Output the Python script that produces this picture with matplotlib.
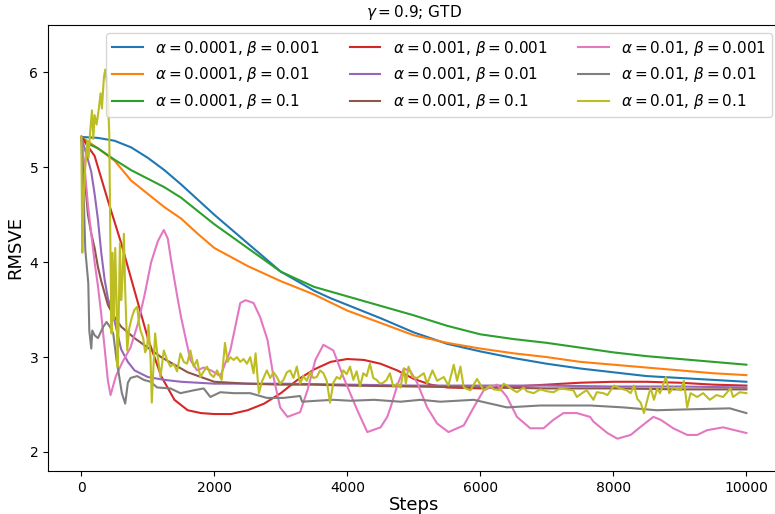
import matplotlib
matplotlib.use("Agg")
import matplotlib.pyplot as plt
import numpy as np

# RMSVE curves (step, value)
blue_steps = [0, 250, 500, 750, 1000, 1250, 1500, 1750, 2000, 2250, 2500, 2750, 3000, 3250,
              3500, 3750, 4000, 4500, 5000, 5500, 6000, 6500, 7000, 7500, 8000, 8500, 9000,
              9500, 10000]
blue_vals = [5.32, 5.31, 5.28, 5.21, 5.10, 4.97, 4.82, 4.66, 4.50, 4.35, 4.20, 4.05, 3.90, 3.80,
             3.70, 3.62, 3.55, 3.41, 3.26, 3.14, 3.06, 2.99, 2.93, 2.88, 2.84, 2.80, 2.78,
             2.76, 2.74]

orange_steps = [0, 250, 500, 750, 1000, 1250, 1500, 1750, 2000, 2500, 3000, 3500, 4000, 4500,
                5000, 5500, 6000, 6500, 7000, 7500, 8000, 8500, 9000, 9500, 10000]
orange_vals = [5.32, 5.20, 5.07, 4.86, 4.72, 4.58, 4.46, 4.30, 4.15, 3.96, 3.80, 3.66, 3.49, 3.36,
               3.23, 3.15, 3.09, 3.04, 3.00, 2.95, 2.92, 2.89, 2.86, 2.83, 2.81]

green_steps = [0, 100, 250, 500, 750, 1000, 1250, 1500, 1750, 2000, 2500, 3000, 3500, 4000,
               4500, 5000, 5500, 6000, 6500, 7000, 7500, 8000, 8500, 9000, 9500, 10000]
green_vals = [5.32, 5.25, 5.20, 5.08, 4.97, 4.88, 4.79, 4.68, 4.54, 4.40, 4.15, 3.90, 3.74, 3.64,
              3.54, 3.44, 3.33, 3.24, 3.19, 3.15, 3.10, 3.05, 3.01, 2.98, 2.95, 2.92]

red_steps = [0, 200, 400, 600, 800, 1000, 1200, 1400, 1600, 1800, 2000, 2250, 2500, 2750, 3000,
             3250, 3500, 3750, 4000, 4250, 4500, 4750, 5000, 5250, 5500, 6000, 6500, 7000,
             7500, 8000, 8500, 9000, 9500, 10000]
red_vals = [5.32, 5.12, 4.65, 4.20, 3.70, 3.20, 2.80, 2.55, 2.44, 2.41, 2.40, 2.40, 2.44, 2.51,
            2.62, 2.76, 2.87, 2.95, 2.98, 2.97, 2.93, 2.86, 2.77, 2.71, 2.68, 2.67, 2.69, 2.71,
            2.73, 2.74, 2.74, 2.73, 2.71, 2.70]

purple_steps = [0, 50, 100, 150, 200, 250, 300, 350, 400, 500, 600, 700, 800, 1000, 1250, 1500,
                2000, 3000, 4000, 5000, 6000, 7000, 8000, 9000, 10000]
purple_vals = [5.32, 5.20, 5.08, 4.95, 4.72, 4.45, 4.10, 3.82, 3.62, 3.38, 3.08, 2.95, 2.86, 2.79,
               2.76, 2.74, 2.72, 2.72, 2.71, 2.70, 2.70, 2.70, 2.69, 2.69, 2.68]

brown_steps = [0, 50, 100, 150, 200, 250, 300, 400, 500, 600, 800, 1000, 1200, 1400, 1600, 1800,
               2000, 2250, 2500, 3000, 3500, 4000, 5000, 6000, 7000, 8000, 9000, 10000]
brown_vals = [5.32, 4.90, 4.50, 4.30, 4.15, 3.95, 3.80, 3.55, 3.42, 3.32, 3.20, 3.10, 3.00, 2.92,
              2.84, 2.79, 2.74, 2.73, 2.72, 2.71, 2.71, 2.70, 2.69, 2.68, 2.67, 2.67, 2.66, 2.66]

pink_steps = [0, 50, 100, 150, 200, 250, 300, 350, 400, 440, 520, 620, 740, 850, 950, 1050,
              1150, 1240, 1300, 1350, 1440, 1500, 1640, 1740, 1840, 1950, 2090, 2240, 2390,
              2470, 2590, 2690, 2800, 2890, 2990, 3100, 3290, 3400, 3520, 3640, 3790, 3940,
              4150, 4300, 4500, 4600, 4650, 4750, 4850, 4950, 5050, 5200, 5350, 5520, 5750,
              5900, 6050, 6250, 6400, 6550, 6750, 6950, 7100, 7250, 7450, 7650, 7700, 7910,
              8060, 8260, 8400, 8600, 8710, 8900, 9110, 9260, 9410, 9650, 10000]
pink_vals = [5.32, 5.00, 4.60, 4.30, 4.00, 3.75, 3.45, 3.10, 2.75, 2.60, 2.80, 2.95, 3.10, 3.35,
             3.65, 4.00, 4.22, 4.34, 4.25, 4.02, 3.65, 3.42, 2.97, 2.86, 2.89, 2.86, 2.80, 3.07,
             3.57, 3.60, 3.57, 3.42, 3.18, 2.79, 2.47, 2.37, 2.42, 2.65, 2.97, 3.13, 3.07, 2.79,
             2.44, 2.21, 2.26, 2.37, 2.47, 2.70, 2.88, 2.85, 2.73, 2.47, 2.30, 2.21, 2.28,
             2.47, 2.65, 2.71, 2.58, 2.37, 2.25, 2.25, 2.34, 2.41, 2.41, 2.37, 2.32, 2.20,
             2.14, 2.18, 2.26, 2.37, 2.34, 2.25, 2.18, 2.18, 2.23, 2.26, 2.20]

gray_steps = [0, 40, 60, 105, 120, 150, 165, 200, 250, 330, 380, 430, 480, 530, 610, 660, 700,
              740, 840, 940, 1040, 1140, 1340, 1490, 1690, 1840, 1940, 2090, 2290, 2540, 2790,
              3040, 3290, 3320, 3540, 3790, 4050, 4400, 4800, 5100, 5400, 5900, 6150, 6400,
              6900, 7650, 8150, 8650, 9150, 9750, 10000]
gray_vals = [5.32, 4.60, 4.13, 3.78, 3.28, 3.09, 3.28, 3.23, 3.20, 3.32, 3.37, 3.32, 3.25, 2.97,
             2.62, 2.51, 2.73, 2.78, 2.80, 2.76, 2.74, 2.68, 2.67, 2.62, 2.65, 2.67, 2.58, 2.63,
             2.62, 2.62, 2.57, 2.57, 2.59, 2.53, 2.54, 2.55, 2.54, 2.55, 2.53, 2.55, 2.53, 2.55,
             2.51, 2.47, 2.49, 2.49, 2.47, 2.44, 2.45, 2.46, 2.41]

olive_steps = [0, 15, 30, 60, 90, 110, 130, 160, 180, 200, 230, 260, 290, 310, 340, 360, 385,
               400, 420, 440, 455, 470, 490, 510, 530, 545, 560, 580, 600, 620, 640, 660, 690,
               720, 760, 800, 840, 870, 890, 930, 960, 990, 1010, 1040, 1060, 1085, 1110, 1140,
               1190, 1240, 1290, 1340, 1390, 1440, 1490, 1540, 1590, 1640, 1690, 1740, 1790,
               1840, 1890, 1940, 1990, 2040, 2110, 2160, 2200, 2240, 2290, 2340, 2390, 2440,
               2490, 2540, 2590, 2620, 2670, 2720, 2790, 2840, 2890, 2940, 2990, 3040, 3090,
               3140, 3190, 3240, 3290, 3340, 3390, 3440, 3490, 3540, 3590, 3640, 3690, 3740,
               3790, 3840, 3890, 3940, 3990, 4040, 4090, 4140, 4190, 4240, 4290, 4340, 4390,
               4440, 4490, 4540, 4590, 4640, 4690, 4750, 4800, 4850, 4880, 4920, 4980, 5050,
               5150, 5200, 5280, 5350, 5450, 5520, 5600, 5650, 5700, 5750, 5850, 5950, 6050,
               6150, 6200, 6300, 6350, 6400, 6480, 6550, 6650, 6700, 6800, 6900, 7000, 7100,
               7200, 7300, 7400, 7450, 7550, 7600, 7700, 7750, 7850, 7910, 8010, 8100, 8200,
               8260, 8310, 8360, 8410, 8460, 8510, 8560, 8610, 8660, 8700, 8790, 8840, 8900,
               9010, 9060, 9110, 9160, 9260, 9350, 9450, 9550, 9650, 9760, 9800, 9900, 10000]
olive_vals = [5.32, 4.10, 4.65, 5.00, 5.28, 5.10, 5.35, 5.60, 5.30, 5.55, 5.45, 5.60, 5.78, 5.62,
              5.95, 6.03, 5.90, 5.74, 5.36, 4.00, 3.25, 4.10, 3.40, 4.15, 3.60, 2.90, 3.30,
              4.20, 3.60, 3.84, 4.30, 3.70, 3.07, 3.30, 3.42, 3.50, 3.53, 3.35, 3.28, 3.20,
              3.05, 3.10, 3.34, 3.00, 2.52, 2.90, 3.25, 3.05, 2.79, 3.07, 2.97, 2.90, 2.93,
              2.85, 3.04, 2.95, 2.93, 3.07, 2.90, 2.97, 2.79, 2.85, 2.90, 2.82, 2.79, 2.86,
              2.76, 3.15, 2.95, 3.00, 2.97, 3.00, 2.95, 2.98, 2.93, 3.00, 2.83, 3.04, 2.62,
              2.75, 2.86, 2.78, 2.84, 2.79, 2.72, 2.76, 2.84, 2.86, 2.78, 2.90, 2.72, 2.80,
              2.75, 2.84, 2.78, 2.79, 2.86, 2.83, 2.75, 2.52, 2.73, 2.79, 2.77, 2.86, 2.82,
              2.90, 2.76, 2.85, 2.69, 2.83, 2.80, 2.93, 2.78, 2.76, 2.72, 2.73, 2.76, 2.83,
              2.69, 2.72, 2.68, 2.88, 2.72, 2.90, 2.79, 2.78, 2.83, 2.72, 2.86, 2.75, 2.79,
              2.70, 2.92, 2.75, 2.90, 2.68, 2.65, 2.77, 2.65, 2.70, 2.66, 2.65, 2.72, 2.70,
              2.66, 2.63, 2.68, 2.64, 2.62, 2.66, 2.64, 2.63, 2.67, 2.66, 2.65, 2.58, 2.63,
              2.65, 2.55, 2.63, 2.62, 2.60, 2.70, 2.67, 2.65, 2.62, 2.70, 2.56, 2.52, 2.41,
              2.55, 2.68, 2.55, 2.67, 2.62, 2.79, 2.62, 2.68, 2.65, 2.75, 2.47, 2.62, 2.58,
              2.62, 2.55, 2.60, 2.58, 2.67, 2.58, 2.63, 2.62]

series = [
    (blue_steps, blue_vals, r"$\alpha=0.0001$, $\beta=0.001$"),
    (orange_steps, orange_vals, r"$\alpha=0.0001$, $\beta=0.01$"),
    (green_steps, green_vals, r"$\alpha=0.0001$, $\beta=0.1$"),
    (red_steps, red_vals, r"$\alpha=0.001$, $\beta=0.001$"),
    (purple_steps, purple_vals, r"$\alpha=0.001$, $\beta=0.01$"),
    (brown_steps, brown_vals, r"$\alpha=0.001$, $\beta=0.1$"),
    (pink_steps, pink_vals, r"$\alpha=0.01$, $\beta=0.001$"),
    (gray_steps, gray_vals, r"$\alpha=0.01$, $\beta=0.01$"),
    (olive_steps, olive_vals, r"$\alpha=0.01$, $\beta=0.1$"),
]

fig = plt.figure(figsize=(7.75, 5.14), dpi=100)
# axes run slightly past the right edge, as in the reference crop
ax = fig.add_axes([0.062, 0.0837, 0.944, 0.8677])

for steps, vals, label in series:
    ax.plot(steps, vals, lw=1.5, label=label)

ax.set_xlim(-500, 10500)
ax.set_ylim(1.8, 6.5)
ax.set_xticks([0, 2000, 4000, 6000, 8000, 10000])
ax.set_yticks([2, 3, 4, 5, 6])
ax.set_xlabel("Steps", fontsize=13, labelpad=1)
ax.set_ylabel("RMSVE", fontsize=13)
ax.set_title(r"$\gamma = 0.9$; GTD", fontsize=11)
ax.legend(ncol=3, fontsize=11, loc="upper right")

fig.savefig("out.png", dpi=100)
plt.close(fig)
